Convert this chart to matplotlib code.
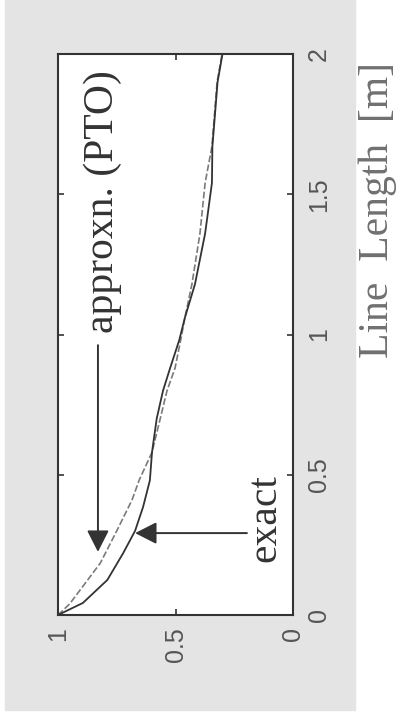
import matplotlib
matplotlib.use("Agg")
import matplotlib.pyplot as plt
from matplotlib.patches import Rectangle

len_approx = [0, 0.04, 0.09, 0.185, 0.30, 0.41, 0.48, 0.58, 0.70, 0.80, 0.88,
              0.98, 1.06, 1.18, 1.36, 1.54, 1.67, 1.90, 2.0]
val_approx = [1.0, 0.95, 0.905, 0.82, 0.75, 0.685, 0.655, 0.60, 0.565, 0.536,
              0.502, 0.478, 0.46, 0.43, 0.396, 0.374, 0.345, 0.323, 0.302]

len_exact = [0, 0.043, 0.125, 0.22, 0.30, 0.385, 0.48, 0.58, 0.70, 0.80, 0.88,
             0.98, 1.06, 1.18, 1.36, 1.54, 1.67, 1.90, 2.0]
val_exact = [1.0, 0.894, 0.79, 0.723, 0.672, 0.638, 0.609, 0.60, 0.58, 0.553,
             0.523, 0.484, 0.46, 0.417, 0.374, 0.345, 0.343, 0.321, 0.300]

val_ticks = [0, 0.5, 1]
val_ticklabels = ['0', '0.5', '1']
len_ticks = [0, 0.5, 1, 1.5, 2]
len_ticklabels = ['0', '0.5', '1', '1.5', '2']

serif = 'Liberation Serif'
sans = 'Liberation Sans'
dark = '#333333'

fig = plt.figure(figsize=(4, 7.2), dpi=100)
fig.patch.set_facecolor('white')
fig.patches.append(Rectangle((5 / 400, 1 - 710 / 720), 350 / 400, 710 / 720,
                             transform=fig.transFigure, color='#e4e4e4', zorder=-5))

ax = fig.add_axes([58 / 400, 1 - 615 / 720, 235 / 400, 561 / 720])
ax.set_facecolor('white')

# whole chart is turned by 90 degrees: length runs upward, value runs right-to-left
ax.plot(val_approx, len_approx, color='#7a7a7a', lw=1.2, ls=(0, (4, 1.5)))
ax.plot(val_exact, len_exact, color=dark, lw=1.3)

ax.set_xlim(1, 0)
ax.set_ylim(0, 2)

ax.set_xticks(val_ticks)
ax.set_xticklabels(val_ticklabels, rotation=90, ha='center', va='top',
                   family=sans, fontsize=18, color='#555555')
ax.set_yticks(len_ticks)
ax.set_yticklabels(len_ticklabels, rotation=90, ha='left', va='center',
                   family=sans, fontsize=18, color='#555555')
ax.yaxis.tick_right()
ax.tick_params(axis='both', direction='in', length=4, width=1.2, color=dark,
               top=True, bottom=True, left=True, right=True)
ax.tick_params(axis='x', pad=8.5)
ax.tick_params(axis='y', pad=10, labelleft=False, labelright=True)
for sp in ax.spines.values():
    sp.set_linewidth(1.5)
    sp.set_color(dark)

fig.text(378 / 400, 1 - 210 / 720, 'Line  Length  [m]', rotation=90,
         ha='center', va='center', family=serif, fontsize=30, color='#707070')

arrow = dict(arrowstyle='-|>,head_length=0.55,head_width=0.28', mutation_scale=24,
             lw=1.4, color=dark, shrinkA=0, shrinkB=0)

ax.annotate('', xy=(0.83, 0.225), xycoords='data',
            xytext=(0.170, 0.481), textcoords='axes fraction', arrowprops=arrow)
ax.text(0.191, 0.503, 'approxn. (PTO)', transform=ax.transAxes, rotation=90,
        ha='center', va='bottom', family=serif, fontsize=30, color=dark)

ax.annotate('', xy=(0.672, 0.292), xycoords='data',
            xytext=(0.804, 0.146), textcoords='axes fraction', arrowprops=arrow)
ax.text(0.881, 0.173, 'exact', transform=ax.transAxes, rotation=90,
        ha='center', va='center', family=serif, fontsize=30, color=dark)

fig.savefig('out.png', dpi=100)
